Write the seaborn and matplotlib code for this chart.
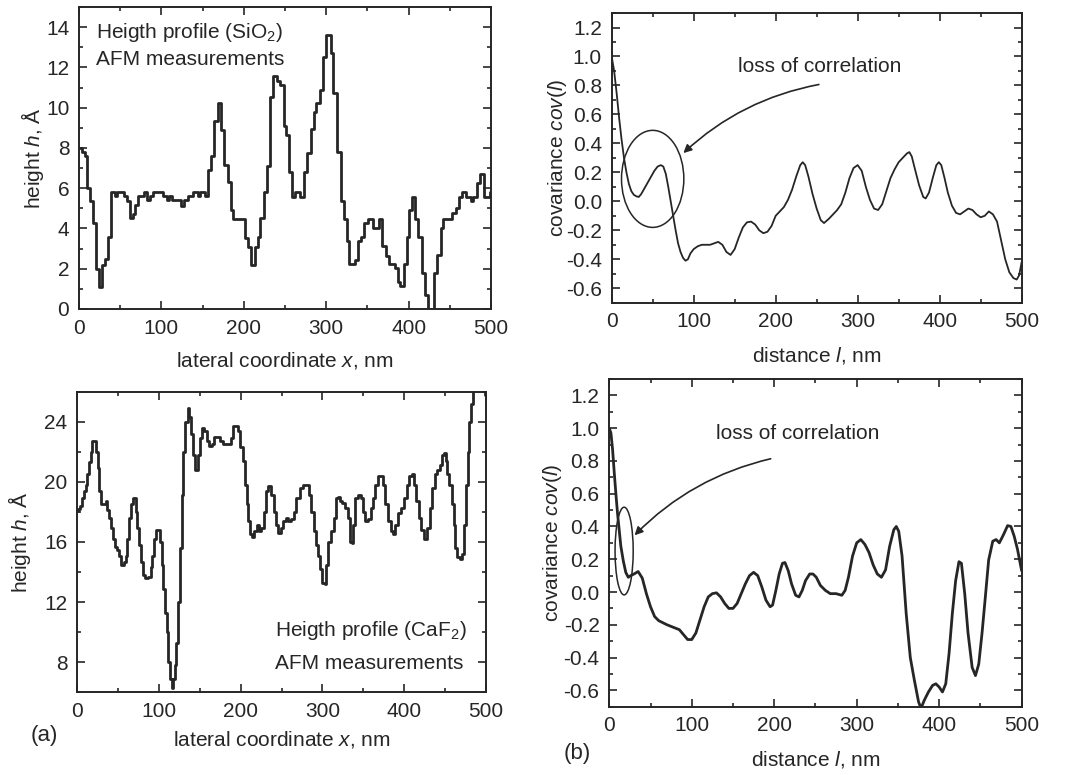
import numpy as np
import pandas as pd
import matplotlib
matplotlib.use("Agg")
import matplotlib.pyplot as plt
from matplotlib.patches import Ellipse
from matplotlib.ticker import MultipleLocator
import seaborn as sns

# ---------------- data ----------------
# (a) top: SiO2 height profile (step breakpoints)
sio2_x = [0, 3.6, 6.9, 10.1, 13.8, 17.0, 20.3, 23.9, 28.4, 31.2, 35.3, 38.5, 43.4, 46.6, 54.7, 58.7,
          61.6, 65.6, 68.5, 71.7, 79.0, 83.1, 86.3, 90.4, 102.2, 106.2, 109.1, 113.1, 123.6, 127.7,
          131.7, 138.6, 143.9, 146.7, 152.8, 156.9, 160.1, 163.8, 168.3, 172.5, 175.5, 181.0, 184.0,
          187.0, 202.0, 205.5, 208.7, 213.6, 216.8, 219.7, 225.0, 228.0, 231.5, 235.0, 240.5, 244.5,
          248.5, 251.5, 254.5, 258.0, 262.5, 268.0, 273.6, 276.9, 281.7, 285.0, 288.0, 292.0, 296.0,
          300.0, 305.5, 308.7, 313.5, 317.5, 321.6, 325.6, 327.7, 334.6, 339.0, 342.0, 346.0, 350.5,
          357.3, 364.6, 368.3, 372.3, 375.6, 383.7, 386.9, 389.8, 395.0, 398.3, 401.0, 404.0, 408.0,
          411.0, 416.0, 420.0, 424.0, 431.0, 434.8, 438.8, 442.0, 453.0, 457.0, 461.0, 464.4, 470.0,
          475.5, 478.3, 482.4, 486.5, 491.3, 498.6, 500]
sio2_h = [8.0, 7.8, 7.6, 6.0, 5.35, 4.25, 2.0, 1.1, 2.2, 2.5, 3.6, 5.8, 5.6, 5.8, 5.6, 5.35,
          4.5, 4.7, 5.15, 5.6, 5.8, 5.4, 5.6, 5.8, 5.6, 5.4, 5.6, 5.4, 5.1, 5.4,
          5.6, 5.8, 5.6, 5.8, 5.6, 6.9, 7.6, 9.35, 10.25, 8.9, 7.15, 6.3, 4.9,
          4.45, 3.55, 3.1, 2.2, 3.1, 3.6, 4.5, 5.8, 7.1, 10.55, 11.55, 11.3, 11.1,
          9.1, 8.65, 6.8, 5.55, 5.8, 5.55, 6.8, 7.75, 8.95, 9.8, 10.25, 10.9, 12.5,
          13.6, 12.7, 10.75, 7.8, 5.35, 4.45, 3.4, 2.25, 2.45, 3.4, 3.6, 4.25, 4.45,
          4.0, 4.45, 3.15, 2.65, 2.25, 2.05, 1.35, 1.15, 2.25, 3.6, 4.9, 5.55, 4.45,
          3.6, 1.8, 0.7, 0.0, 1.8, 2.7, 4.0, 4.45, 4.75, 5.0, 5.55, 5.8, 5.55,
          5.35, 5.55, 6.25, 6.7, 5.55, 5.8, 5.8]

# (a) bottom: CaF2 height profile
caf2_x = [0, 2.5, 5.3, 7.3, 9.4, 11.4, 13.4, 15.5, 17.5, 19.6, 22.4, 24.4, 26.1, 28.5, 31.0, 33.8,
          35.9, 37.9, 39.9, 43.2, 45.2, 47.3, 49.3, 52.1, 55.4, 58.3, 60.3, 62.3, 65.2, 67.6, 69.7,
          70.9, 72.5, 74.6, 76.6, 78.7, 81.5, 84.8, 88.8, 90.9, 92.9, 94.9, 97.0, 100.2, 102.3,
          104.3, 106.4, 108.4, 110.4, 112.5, 114.5, 116.5, 118.6, 120.6, 122.6, 124.7, 126.7,
          128.8, 130.8, 133.7, 136.5, 138.5, 141.0, 143.0, 145.1, 147.1, 149.1, 151.2, 154.0,
          157.3, 160.1, 163.4, 166.3, 169.5, 172.4, 176.4, 180.5, 186.6, 188.7, 192.7, 195.6,
          198.1, 200.9, 203.8, 206.2, 208.3, 210.3, 213.2, 215.2, 218.5, 220.5, 223.4, 227.4,
          229.9, 232.3, 235.6, 238.8, 241.7, 244.5, 247.8, 250.6, 253.9, 256.7, 260.0, 263.2,
          266.1, 270.1, 274.2, 278.3, 282.4, 285.2, 287.7, 290.5, 293.4, 295.8, 298.6, 301.5,
          303.9, 306.0, 308.8, 312.1, 315.0, 317.8, 320.3, 323.1, 326.0, 329.3, 332.1, 334.6,
          336.7, 339.1, 341.7, 345.2, 348.0, 350.9, 354.2, 357.4, 360.3, 363.1, 366.4, 369.6,
          372.5, 375.3, 378.6, 381.9, 384.7, 387.6, 390.8, 394.1, 398.1, 402.2, 405.0, 407.9,
          410.3, 413.2, 416.0, 419.3, 422.5, 426.6, 429.5, 432.8, 435.6, 438.9, 441.7, 444.6,
          447.8, 449.9, 451.9, 453.9, 456.8, 459.3, 461.3, 463.3, 466.2, 469.0, 471.5, 474.4,
          476.4, 478.4, 480.4, 482.5, 484.5, 488.0, 494.0, 498.0, 500.0]
caf2_h = [18.07, 18.2, 18.4, 18.9, 19.4, 19.8, 20.5, 21.3, 22.0, 22.7, 22.7, 22.0, 20.9, 19.4, 18.5, 18.5,
          18.7, 18.1, 17.6, 16.9, 16.2, 15.7, 15.5, 15.1, 14.5, 14.7, 15.1, 16.2, 17.6, 18.5, 18.9,
          18.9, 18.0, 16.9, 15.8, 14.7, 13.8, 13.6, 13.65, 14.35, 15.1, 16.2, 16.8, 16.8, 16.0,
          14.5, 12.9, 11.3, 10.0, 8.0, 6.9, 6.3, 6.9, 7.8, 9.3, 12.0, 15.6,
          19.1, 22.0, 24.0, 24.9, 24.3, 23.2, 21.8, 20.8, 20.8, 21.8, 22.9, 23.6,
          23.4, 22.7, 22.4, 22.5, 23.0, 23.0, 22.7, 22.5, 22.5, 22.9, 23.7, 23.7,
          23.4, 22.3, 21.4, 19.8, 18.5, 17.4, 16.5, 16.3, 16.7, 17.1, 16.7, 16.9,
          18.0, 19.4, 19.7, 19.1, 18.0, 17.1, 16.6, 16.9, 17.4, 17.6, 17.4, 17.5,
          18.0, 18.9, 19.6, 19.8, 19.8, 19.1, 18.0, 16.7, 15.8, 15.1, 14.2, 13.3,
          13.2, 14.5, 16.0, 16.7, 17.6, 18.9, 19.0, 18.7, 18.6, 18.25, 17.6, 16.0,
          15.9, 17.1, 18.9, 19.1, 18.9, 18.0, 17.4, 17.5, 18.25, 18.9, 19.8, 20.4,
          20.4, 19.8, 18.5, 17.4, 16.7, 16.5, 17.1, 17.9, 18.25, 18.9, 19.8, 20.4,
          20.5, 19.8, 18.7, 17.6, 16.8, 16.2, 16.9, 18.25, 19.6, 20.5, 20.8, 21.1,
          21.8, 21.9, 21.4, 20.5, 19.8, 18.5, 17.1, 15.6, 15.0, 14.9, 15.2, 17.1,
          19.8, 22.0, 24.0, 25.2, 26.2, 27.0, 27.0, 26.3, 25.8]

# (b) top: covariance for SiO2
cov1_l = [0, 3, 6, 9, 12, 15, 18, 21, 24, 27, 30, 33, 36, 40, 44, 48, 52, 56, 60, 63, 66, 69, 72, 75,
          78, 81, 84, 87, 90, 93, 96, 100, 105, 110, 115, 120, 125, 130, 135, 140, 145, 150, 155,
          160, 165, 170, 175, 180, 185, 190, 195, 200, 205, 210, 215, 220, 225, 230, 233, 236, 240,
          245, 250, 255, 259, 265, 270, 275, 280, 285, 290, 295, 300, 305, 310, 315, 320, 325, 330,
          335, 340, 345, 350, 355, 360, 363, 366, 370, 375, 380, 383, 387, 392, 396, 399, 402, 406,
          410, 415, 420, 425, 430, 435, 440, 445, 450, 455, 460, 465, 470, 475, 480, 485, 490, 494,
          497, 500]
cov1_v = [1.00, 0.90, 0.75, 0.58, 0.43, 0.30, 0.20, 0.12, 0.07, 0.045, 0.035, 0.03, 0.05, 0.09, 0.13,
          0.17, 0.21, 0.24, 0.25, 0.24, 0.19, 0.10, 0.00, -0.10, -0.20, -0.29, -0.35, -0.39, -0.41,
          -0.40, -0.36, -0.33, -0.31, -0.30, -0.30, -0.30, -0.29, -0.28, -0.30, -0.35, -0.37, -0.33,
          -0.25, -0.18, -0.145, -0.14, -0.16, -0.20, -0.22, -0.21, -0.17, -0.10, -0.07, -0.04, 0.01,
          0.08, 0.17, 0.25, 0.27, 0.25, 0.17, 0.05, -0.05, -0.13, -0.15, -0.12, -0.09, -0.06, -0.02,
          0.06, 0.16, 0.23, 0.25, 0.21, 0.10, 0.01, -0.05, -0.06, -0.02, 0.07, 0.16, 0.22, 0.27, 0.30,
          0.33, 0.34, 0.31, 0.22, 0.11, 0.03, 0.02, 0.06, 0.17, 0.25, 0.27, 0.25, 0.16, 0.06, -0.03,
          -0.08, -0.09, -0.07, -0.05, -0.06, -0.09, -0.11, -0.10, -0.07, -0.09, -0.14, -0.27, -0.40,
          -0.49, -0.53, -0.54, -0.51, -0.42]

# (b) bottom: covariance for CaF2
cov2_l = [0, 2, 4, 6, 8, 10, 12, 14, 17, 20, 23, 26, 30, 35, 40, 45, 50, 55, 60, 70, 80, 85, 90, 95,
          100, 105, 110, 115, 120, 125, 130, 135, 140, 145, 150, 155, 160, 165, 170, 175, 180, 185,
          190, 195, 198, 202, 206, 210, 213, 217, 221, 226, 230, 234, 238, 243, 247, 251, 256, 262,
          268, 275, 282, 286, 290, 295, 300, 305, 310, 315, 320, 325, 330, 335, 340, 345, 348, 351,
          355, 360, 365, 370, 375, 378, 382, 387, 392, 396, 400, 404, 408, 412, 416, 420, 424, 427,
          431, 435, 440, 444, 448, 452, 456, 460, 465, 469, 473, 478, 483, 487, 491, 495, 500]
cov2_v = [1.00, 0.97, 0.87, 0.73, 0.60, 0.48, 0.38, 0.28, 0.19, 0.12, 0.09, 0.10, 0.11, 0.125, 0.085,
          -0.01, -0.09, -0.15, -0.175, -0.20, -0.22, -0.23, -0.26, -0.29, -0.29, -0.25, -0.17, -0.09,
          -0.03, -0.01, -0.005, -0.03, -0.07, -0.10, -0.10, -0.07, -0.01, 0.05, 0.10, 0.12, 0.10, 0.03,
          -0.05, -0.09, -0.08, 0.01, 0.11, 0.175, 0.18, 0.13, 0.05, -0.02, -0.03, 0.01, 0.07, 0.11,
          0.11, 0.09, 0.04, 0.01, -0.01, -0.01, -0.02, 0.01, 0.09, 0.22, 0.30, 0.32, 0.29, 0.24, 0.165,
          0.11, 0.09, 0.135, 0.28, 0.38, 0.40, 0.37, 0.22, -0.13, -0.40, -0.54, -0.67, -0.71, -0.66,
          -0.61, -0.57, -0.56, -0.58, -0.61, -0.56, -0.375, -0.13, 0.07, 0.185, 0.175, -0.01, -0.25,
          -0.46, -0.51, -0.44, -0.25, -0.03, 0.195, 0.31, 0.32, 0.30, 0.35, 0.405, 0.40, 0.34, 0.26,
          0.13]

x_ticks = [0, 100, 200, 300, 400, 500]
note_text = "loss of correlation"

# ---------------- style ----------------
sns.set_theme(style="ticks")
plt.rcParams["font.family"] = ["Liberation Sans", "DejaVu Sans"]
plt.rcParams["mathtext.fontset"] = "custom"
plt.rcParams["mathtext.rm"] = "Liberation Sans"
plt.rcParams["mathtext.it"] = "Liberation Sans:italic"
plt.rcParams["axes.unicode_minus"] = False

INK = "#262626"
FS_TICK = 15
FS_LAB = 15

fig = plt.figure(figsize=(10.88, 7.75), dpi=100)
fig.patch.set_facecolor("white")

ax_tl = fig.add_axes([0.0726, 0.6013, 0.3787, 0.3897])
ax_tr = fig.add_axes([0.5622, 0.6094, 0.3768, 0.3738])
ax_bl = fig.add_axes([0.0708, 0.1067, 0.3759, 0.3879])
ax_br = fig.add_axes([0.5600, 0.0881, 0.3790, 0.4229])


def style_axes(ax, ymaj, ymin):
    ax.set_xlim(0, 500)
    ax.set_xticks(x_ticks)
    ax.xaxis.set_minor_locator(MultipleLocator(50))
    ax.yaxis.set_major_locator(MultipleLocator(ymaj))
    ax.yaxis.set_minor_locator(MultipleLocator(ymin))
    ax.tick_params(which="both", direction="in", top=True, right=True, colors=INK,
                   labelsize=FS_TICK, width=1.2, pad=7)
    ax.tick_params(which="major", length=6)
    ax.tick_params(which="minor", length=3)
    for sp in ax.spines.values():
        sp.set_color(INK)
        sp.set_linewidth(1.4)
    ax.set_facecolor("white")


# --- (a) top
df1 = pd.DataFrame({"x": sio2_x, "h": sio2_h})
sns.lineplot(data=df1, x="x", y="h", ax=ax_tl, color=INK, lw=2.0, drawstyle="steps-post",
             sort=False, estimator=None)
style_axes(ax_tl, 2, 1)
ax_tl.set_ylim(0, 15)
ax_tl.set_xlabel("lateral coordinate $x$, nm", fontsize=FS_LAB, color=INK, labelpad=9)
ax_tl.set_ylabel("height $h$, Å", fontsize=FS_LAB, color=INK, labelpad=0)
ax_tl.text(21, 13.75, "Heigth profile (SiO$_2$)", fontsize=FS_LAB, color=INK, va="center")
ax_tl.text(21, 12.4, "AFM measurements", fontsize=FS_LAB, color=INK, va="center")

# --- (a) bottom
df2 = pd.DataFrame({"x": caf2_x, "h": caf2_h})
sns.lineplot(data=df2, x="x", y="h", ax=ax_bl, color=INK, lw=2.0, drawstyle="steps-mid",
             sort=False, estimator=None)
style_axes(ax_bl, 4, 2)
ax_bl.set_ylim(6, 26)
ax_bl.set_xlabel("lateral coordinate $x$, nm", fontsize=FS_LAB, color=INK, labelpad=6)
ax_bl.set_ylabel("height $h$, Å", fontsize=FS_LAB, color=INK, labelpad=8)
ax_bl.text(242, 10.1, "Heigth profile (CaF$_2$)", fontsize=FS_LAB, color=INK, va="center")
ax_bl.text(242, 7.9, "AFM measurements", fontsize=FS_LAB, color=INK, va="center")

# --- (b) top
df3 = pd.DataFrame({"l": cov1_l, "c": cov1_v})
sns.lineplot(data=df3, x="l", y="c", ax=ax_tr, color=INK, lw=1.3, sort=False, estimator=None)
style_axes(ax_tr, 0.2, 0.1)
ax_tr.set_ylim(-0.7, 1.3)
ax_tr.yaxis.set_major_formatter(matplotlib.ticker.FormatStrFormatter("%.1f"))
ax_tr.set_xlabel("distance $l$, nm", fontsize=FS_LAB, color=INK, labelpad=10)
ax_tr.set_ylabel("covariance $cov(l)$", fontsize=FS_LAB, color=INK, labelpad=-2)
ax_tr.add_patch(Ellipse((50, 0.155), 76, 0.67, fill=False, ec=INK, lw=1.1))
ax_tr.annotate("", xy=(85, 0.32), xytext=(256, 0.81),
               arrowprops=dict(arrowstyle="-|>", connectionstyle="arc3,rad=0.15",
                               color=INK, lw=1.2, mutation_scale=12))
ax_tr.text(254, 0.93, note_text, fontsize=FS_LAB, color=INK, ha="center", va="center")

# --- (b) bottom
df4 = pd.DataFrame({"l": cov2_l, "c": cov2_v})
sns.lineplot(data=df4, x="l", y="c", ax=ax_br, color=INK, lw=2.0, sort=False, estimator=None)
style_axes(ax_br, 0.2, 0.1)
ax_br.set_ylim(-0.7, 1.3)
ax_br.yaxis.set_major_formatter(matplotlib.ticker.FormatStrFormatter("%.1f"))
ax_br.set_xlabel("distance $l$, nm", fontsize=FS_LAB, color=INK, labelpad=10)
ax_br.set_ylabel("covariance $cov(l)$", fontsize=FS_LAB, color=INK, labelpad=0)
ax_br.add_patch(Ellipse((18, 0.25), 22, 0.535, fill=False, ec=INK, lw=1.1))
ax_br.annotate("", xy=(28.3, 0.334), xytext=(199, 0.817),
               arrowprops=dict(arrowstyle="-|>", connectionstyle="arc3,rad=0.15",
                               color=INK, lw=1.2, mutation_scale=12))
ax_br.text(229, 0.97, note_text, fontsize=FS_LAB, color=INK, ha="center", va="center")

fig.text(44 / 1088, 1 - 735 / 775, "(a)", fontsize=FS_LAB + 1, color=INK, ha="center", va="center")
fig.text(577 / 1088, 1 - 754 / 775, "(b)", fontsize=FS_LAB + 1, color=INK, ha="center", va="center")

fig.savefig("out.png", dpi=100, facecolor="white")
